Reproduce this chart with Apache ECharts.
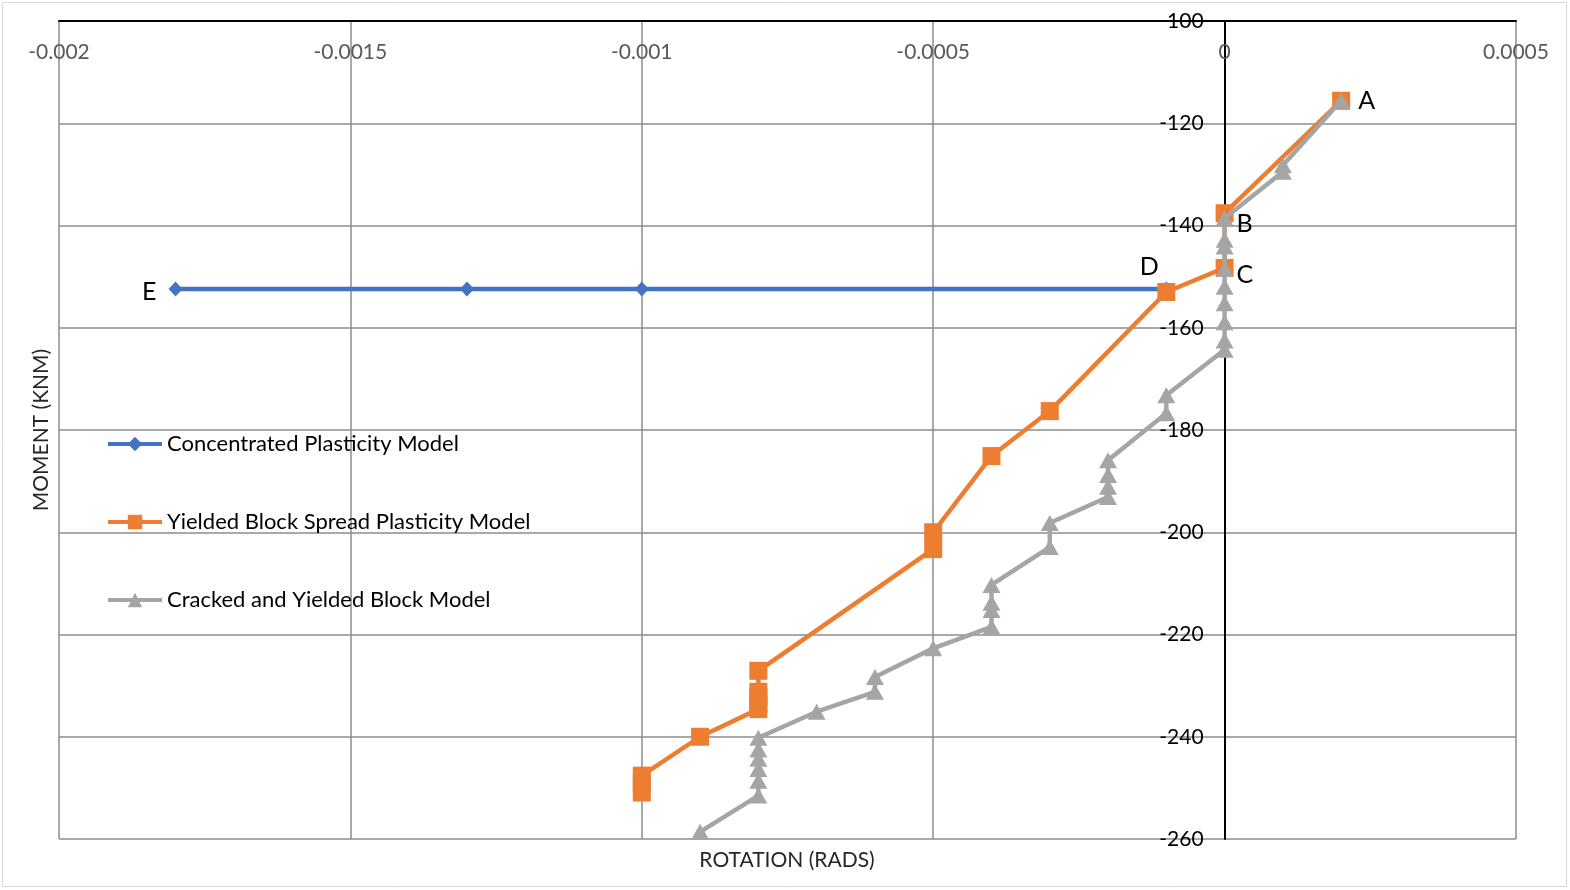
<!DOCTYPE html>
<html>
<head>
<meta charset="utf-8">
<script src="https://cdn.jsdelivr.net/npm/echarts@6/dist/echarts.min.js"></script>
<style>
  html, body { margin: 0; padding: 0; background: #fff; }
  #chart { width: 1570px; height: 890px; }
</style>
</head>
<body>
<div id="chart"></div>
<script>
// Moment–rotation response of the three hinge models
const seriesNames = [
  'Concentrated Plasticity Model',
  'Yielded Block Spread Plasticity Model',
  'Cracked and Yielded Block Model'
];

const concentratedRot = [-0.0018, -0.0013, -0.001, -0.0001];
const concentratedMom = [-152.4, -152.4, -152.4, -152.4];

const yieldedRot = [0.0002, 0, 0, -0.0001, -0.0003, -0.0004, -0.0005, -0.0005,
  -0.0008, -0.0008, -0.0008, -0.0008, -0.0008, -0.0009, -0.001, -0.001, -0.001];
const yieldedMom = [-115.6, -137.6, -148.3, -153.0, -176.3, -185.1, -200.0, -203.3,
  -227.1, -231.2, -232.3, -233.5, -234.6, -240.0, -247.6, -249.2, -250.9];

const crackedRot = [0.0002, 0.0001, 0.0001,
  0, 0, 0, 0, 0, 0, 0, 0, 0,
  -0.0001, -0.0001,
  -0.0002, -0.0002, -0.0002, -0.0002,
  -0.0003, -0.0003,
  -0.0004, -0.0004, -0.0004, -0.0004,
  -0.0005,
  -0.0006, -0.0006,
  -0.0007,
  -0.0008, -0.0008, -0.0008, -0.0008, -0.0008, -0.0008,
  -0.0009];
const crackedMom = [-115.6, -128.2, -129.5,
  -138.6, -142.8, -144.1, -148.5, -152.0, -155.2, -158.9, -162.5, -164.3,
  -173.2, -176.7,
  -185.9, -188.8, -191.1, -193.1,
  -198.2, -202.9,
  -210.3, -213.8, -215.2, -218.5,
  -222.7,
  -228.3, -231.2,
  -235.1,
  -240.2, -242.5, -244.3, -246.3, -248.6, -251.5,
  -258.6];

// Stage letters attached to points (series index -> point index -> letter)
const stageLabels = [
  { series: 0, index: 0, text: 'E', position: 'left', distance: 12, offset: [0, 3] },
  { series: 1, index: 0, text: 'A', position: 'right', distance: 8, offset: [0, 0] },
  { series: 1, index: 1, text: 'B', position: 'right', distance: 3, offset: [0, 11] },
  { series: 1, index: 2, text: 'C', position: 'right', distance: 3, offset: [0, 7] },
  { series: 1, index: 3, text: 'D', position: 'top', distance: 4, offset: [-17, 0] }
];

const xTicks = { min: -0.002, max: 0.0005, interval: 0.0005 };
const yTicks = { min: -260, max: -100, interval: 20 };

const W = 1570, H = 890;
const grid = { left: 59, right: 54, top: 21, bottom: 51 };

// The vertical axis crosses the horizontal one at rotation = 0
const plotWidth = W - grid.left - grid.right;
const yAxisShift = plotWidth * (0 - xTicks.min) / (xTicks.max - xTicks.min);

function buildData(si, rot, mom) {
  return rot.map((r, i) => {
    const item = { value: [r, mom[i]] };
    const lab = stageLabels.find(l => l.series === si && l.index === i);
    if (lab) {
      item.label = {
        show: true,
        formatter: lab.text,
        position: lab.position,
        distance: lab.distance,
        offset: lab.offset,
        fontSize: 25,
        color: '#000',
        fontFamily: 'Lato'
      };
    }
    return item;
  });
}

const chart = echarts.init(document.getElementById('chart'), null, { renderer: 'canvas' });

const option = {
  animation: false,
  backgroundColor: '#fff',
  textStyle: { fontFamily: 'Lato' },
  grid: Object.assign({ containLabel: false }, grid),
  xAxis: {
    type: 'value',
    position: 'top',
    min: xTicks.min,
    max: xTicks.max,
    interval: xTicks.interval,
    axisLine: { onZero: false, lineStyle: { color: '#000', width: 2 } },
    axisTick: { show: false },
    axisLabel: {
      inside: true,
      margin: 21,
      fontSize: 21,
      color: '#595959',
      formatter: v => String(parseFloat(v.toPrecision(6)))
    },
    splitLine: { show: true, lineStyle: { color: '#8c8c8c', width: 1.5 } }
  },
  yAxis: {
    type: 'value',
    position: 'left',
    offset: -yAxisShift,
    min: yTicks.min,
    max: yTicks.max,
    interval: yTicks.interval,
    axisLine: { show: true, onZero: false, lineStyle: { color: '#000', width: 2 } },
    axisTick: { show: false },
    axisLabel: { fontSize: 21, color: '#000', margin: 21 },
    splitLine: { show: true, lineStyle: { color: '#8c8c8c', width: 1.5 } }
  },
  legend: {
    orient: 'vertical',
    left: 106,
    top: 433,
    padding: 0,
    itemWidth: 54,
    itemHeight: 18,
    itemGap: 56,
    lineStyle: { width: 4 },
    textStyle: { fontSize: 22, color: '#000', lineHeight: 22, fontFamily: 'Lato' },
    data: seriesNames
  },
  series: [
    {
      name: seriesNames[0],
      type: 'line',
      data: buildData(0, concentratedRot, concentratedMom),
      symbol: 'diamond',
      symbolSize: [14, 15],
      lineStyle: { color: '#4472C4', width: 4.5 },
      itemStyle: { color: '#4472C4' },
      z: 2
    },
    {
      name: seriesNames[1],
      type: 'line',
      data: buildData(1, yieldedRot, yieldedMom),
      symbol: 'rect',
      symbolSize: 18,
      lineStyle: { color: '#ED7D31', width: 4.5 },
      itemStyle: { color: '#ED7D31' },
      z: 3
    },
    {
      name: seriesNames[2],
      type: 'line',
      data: buildData(2, crackedRot, crackedMom),
      symbol: 'triangle',
      symbolSize: [18, 16],
      lineStyle: { color: '#A5A5A5', width: 4.5 },
      itemStyle: { color: '#A5A5A5' },
      z: 4
    }
  ],
  graphic: [
    {
      type: 'rect',
      shape: { x: 2.5, y: 2.5, width: 1564, height: 884 },
      style: { fill: 'none', stroke: '#d9d9d9', lineWidth: 1 },
      silent: true
    },
    {
      type: 'text',
      x: 41, y: 430,
      rotation: Math.PI / 2,
      style: {
        text: 'MOMENT (KNM)',
        fontSize: 21,
        fontFamily: 'Lato',
        fill: '#262626',
        align: 'center',
        verticalAlign: 'middle'
      }
    },
    {
      type: 'text',
      x: 787, y: 860,
      style: {
        text: 'ROTATION (RADS)',
        fontSize: 21,
        fontFamily: 'Lato',
        fill: '#262626',
        align: 'center',
        verticalAlign: 'middle'
      }
    }
  ]
};

chart.setOption(option);
</script>
</body>
</html>
